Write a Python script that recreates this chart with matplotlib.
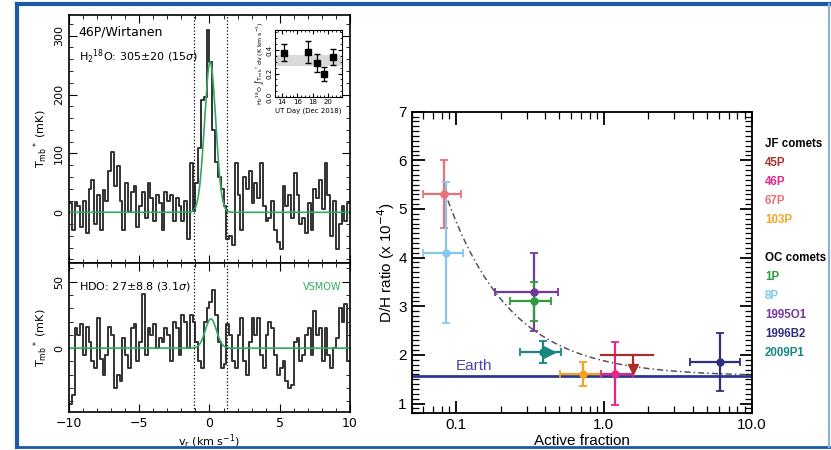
import numpy as np
import matplotlib.pyplot as plt
from matplotlib.ticker import MultipleLocator, LogLocator, NullFormatter, FixedLocator
from matplotlib.lines import Line2D

# --- left: spectra of 46P/Wirtanen (channel width 0.2 km/s) ---
vel = np.arange(-9.9, 10.0, 0.2)
h218o = [15, -30, 18, 10, -25, 20, -35, 40, 55, -20,
         30, -30, 38, 20, 70, 103, 45, 78, 20, -30,
         50, 0, 35, 45, -25, 10, 35, -10, 50, 25,
         -15, 30, 15, -30, 35, 20, 30, -15, 25, 10,
         -15, 20, -45, 84, 2, 50, 110, 190, 195, 310,
         255, 140, 85, 60, 40, 10, -45, -40, -55, 84,
         30, -30, 60, 40, 70, 15, 50, 25, 84, 10,
         -15, -10, 20, -30, -50, -63, 45, 10, 30, -10,
         67, 30, -20, -10, -35, 15, -30, 40, 25, 55,
         5, 84, 30, -40, 20, -63, -20, 10, -15, 15]
hdo = [-42, -35, 15, 10, 18, -5, 16, 5, -10, -15,
       23, -8, -20, -5, 16, 10, -30, -20, -25, 8,
       -5, -15, 15, 18, -10, 5, 41, -5, 15, 10,
       18, 0, 8, 5, 15, 10, -10, 20, 15, -5,
       25, 20, 0, 25, 20, 5, -10, -15, 20, 30,
       35, 44, 25, 5, -15, -12, 18, 10, -10, -15,
       10, 23, -10, -20, 5, 23, 10, 23, -5, -15,
       10, 20, 15, -5, -20, -15, -10, -25, -30, -28,
       5, 8, -10, -5, 10, 15, -5, 28, 10, 15,
       -10, 15, -5, -15, 0, 8, 30, 20, 33, -10]
# gaussian fits: amplitude (mK), centre, sigma (km/s)
fit_h218o = (255, 0.05, 0.40)
fit_hdo = (22, 0.10, 0.40)
vwin = [-1.1, 1.25]

# inset: integrated intensity per day
days = [14.3, 17.4, 18.5, 19.5, 20.6]
intens = [0.377, 0.385, 0.287, 0.196, 0.338]
intens_err = [0.07, 0.095, 0.075, 0.057, 0.067]
band = (0.26, 0.357)

# --- right: D/H vs active fraction ---
comets = ['67P', '8P', '1995O1', '1P', '2009P1', '103P', '46P', '1996B2']
colors = {'45P': '#a8302c', '46P': '#e0288a', '67P': '#ec7078', '103P': '#f5a31f',
          '1P': '#2f9a3e', '8P': '#86c8ec', '1995O1': '#73399a', '1996B2': '#2e2f7f',
          '2009P1': '#17877f'}
af = [0.0833, 0.0855, 0.334, 0.334, 0.387, 0.722, 1.18, 6.1]
af_lo = [0.0594, 0.0594, 0.182, 0.23, 0.269, 0.502, 0.96, 3.82]
af_hi = [0.108, 0.111, 0.488, 0.44, 0.515, 0.96, 1.57, 8.33]
dh = [5.3, 4.1, 3.3, 3.1, 2.06, 1.6, 1.6, 1.85]
dh_lo = [4.6, 2.65, 2.5, 2.7, 1.83, 1.37, 0.98, 1.25]
dh_hi = [6.0, 5.55, 4.1, 3.5, 2.28, 1.85, 2.26, 2.45]
lim45 = dict(x=1.57, xlo=0.96, xhi=2.15, y=2.0, arrow=1.72)
earth = 1.56
model_amp = 0.318  # D/H = earth + amp / f

jf = ['45P', '46P', '67P', '103P']
oc = ['1P', '8P', '1995O1', '1996B2', '2009P1']

fig = plt.figure(figsize=(8.31, 4.5), dpi=100)
ink = '#333333'

def gauss(v, p):
    return p[0] * np.exp(-0.5 * ((v - p[1]) / p[2]) ** 2)

vfine = np.linspace(-10, 10, 800)

ax1 = fig.add_axes([0.0830, 0.4156, 0.3381, 0.5511])
ax2 = fig.add_axes([0.0830, 0.0844, 0.3381, 0.3311])
for ax, spec, fit in [(ax1, h218o, fit_h218o), (ax2, hdo, fit_hdo)]:
    ax.step(vel, spec, where='mid', color=ink, lw=1.4)
    ax.plot(vfine, gauss(vfine, fit), color='#35a760', lw=1.2)
    for v0 in vwin:
        ax.axvline(v0, color='black', ls=':', lw=0.9)
    ax.set_xlim(-10, 10)
    ax.xaxis.set_major_locator(MultipleLocator(5))
    ax.xaxis.set_minor_locator(MultipleLocator(1))
    ax.tick_params(which='both', direction='in', top=True, right=True, labelsize=8)
    ax.tick_params(which='major', length=6)
    ax.tick_params(which='minor', length=3)
    for s in ax.spines.values():
        s.set_linewidth(1.2)
ax1.set_ylim(-86, 335)
ax1.yaxis.set_major_locator(MultipleLocator(100))
ax1.yaxis.set_minor_locator(MultipleLocator(20))
ax1.set_xticklabels([])
ax2.set_ylim(-48, 64)
ax2.yaxis.set_major_locator(MultipleLocator(50))
ax2.yaxis.set_minor_locator(MultipleLocator(10))
for ax in (ax1, ax2):
    plt.setp(ax.get_yticklabels(), rotation=90, va='center')
ax1.set_ylabel('T$_{\\rm mb}$$^*$ (mK)', fontsize=8, labelpad=3)
ax2.set_ylabel('T$_{\\rm mb}$$^*$ (mK)', fontsize=8, labelpad=3)
ax2.set_xlabel('v$_{\\rm r}$ (km s$^{-1}$)', fontsize=8, labelpad=2)
ax2.tick_params(axis='x', labelsize=9)
ax1.text(0.035, 0.93, '46P/Wirtanen', transform=ax1.transAxes, fontsize=9, va='center')
ax1.text(0.035, 0.83, 'H$_2$$^{18}$O: 305±20 (15$\\sigma$)', transform=ax1.transAxes,
         fontsize=8, va='center')
ax2.text(0.035, 0.84, 'HDO: 27±8.8 (3.1$\\sigma$)', transform=ax2.transAxes, fontsize=8, va='center')
ax2.text(0.97, 0.84, 'VSMOW', transform=ax2.transAxes, fontsize=7, va='center', ha='right',
         color='#35a760')

axi = fig.add_axes([0.3309, 0.7844, 0.0806, 0.1489])
axi.axhspan(band[0], band[1], color='#d9d9d9', lw=0)
axi.errorbar(days, intens, yerr=intens_err, fmt='s', color='black', ms=4, capsize=2.5, lw=0.9)
axi.set_xlim(13.1, 21.8)
axi.set_ylim(0, 0.57)
axi.xaxis.set_major_locator(MultipleLocator(2))
axi.xaxis.set_minor_locator(MultipleLocator(0.5))
axi.yaxis.set_major_locator(MultipleLocator(0.2))
axi.yaxis.set_minor_locator(MultipleLocator(0.05))
axi.tick_params(which='both', direction='in', top=True, right=True, labelsize=5, pad=1.5)
axi.tick_params(which='major', length=3)
axi.tick_params(which='minor', length=1.5)
plt.setp(axi.get_yticklabels(), rotation=90, va='center')
axi.set_xlabel('UT Day (Dec 2018)', fontsize=5, labelpad=1.5)
axi.set_ylabel('H$_2$$^{18}$O $\\int$T$_{\\rm mb}$$^*$dv (K km s$^{-1}$)', fontsize=4.5, labelpad=1)

# right panel
axr = fig.add_axes([0.4954, 0.0816, 0.4091, 0.6702])
axr.set_xscale('log')
axr.set_xlim(0.05, 10)
axr.set_ylim(0.8, 7)
axr.axhline(earth, color='#2b3a8f', lw=2)
xm = np.logspace(np.log10(0.088), 1, 200)
axr.plot(xm, earth + model_amp / xm, color='#555555', ls=(0, (4, 2, 1, 2)), lw=1.1)
for name, x, xl, xh, y, yl, yh in zip(comets, af, af_lo, af_hi, dh, dh_lo, dh_hi):
    axr.errorbar([x], [y], xerr=[[x - xl], [xh - x]], yerr=[[y - yl], [yh - y]],
                 fmt='o', color=colors[name], ms=5, capsize=3, lw=1.6, capthick=1.3)
    if name == '2009P1':
        axr.plot([x * 1.1], [y], marker='>', color=colors[name], ms=8)
c45 = colors['45P']
axr.plot([lim45['xlo'], lim45['xhi']], [lim45['y'], lim45['y']], color=c45, lw=1.6)
axr.plot([lim45['x'], lim45['x']], [lim45['y'], lim45['arrow']], color=c45, lw=1.6)
axr.plot([lim45['x']], [lim45['arrow']], marker='v', color=c45, ms=7)
axr.text(0.1, 1.78, 'Earth', color='#4646a6', fontsize=11, va='center', family='Liberation Sans')
axr.yaxis.set_major_locator(MultipleLocator(1))
axr.yaxis.set_minor_locator(MultipleLocator(0.1))
axr.xaxis.set_major_locator(FixedLocator([0.1, 1.0, 10.0]))
axr.xaxis.set_minor_locator(LogLocator(subs=np.arange(2, 10)))
axr.xaxis.set_minor_formatter(NullFormatter())
axr.set_xticklabels(['0.1', '1.0', '10.0'])
axr.tick_params(which='both', direction='in', top=True, right=True, labelsize=11)
axr.tick_params(which='major', length=9, width=1.3)
axr.tick_params(which='minor', length=5, width=0.9)
for lab in axr.get_xticklabels() + axr.get_yticklabels():
    lab.set_family('Liberation Sans')
for s in axr.spines.values():
    s.set_linewidth(1.3)
axr.set_xlabel('Active fraction', fontsize=11, family='Liberation Sans', labelpad=1)
axr.set_ylabel('D/H ratio (x 10$^{-4}$)', fontsize=11, family='Liberation Sans', labelpad=1)

lx = 765 / 831
lfs = 8.3
fig.text(lx, 1 - 144 / 450, 'JF comets', fontsize=lfs, weight='bold', va='center',
         family='Liberation Sans')
for i, n in enumerate(jf):
    fig.text(lx, 1 - (163.3 + 19 * i) / 450, n, fontsize=lfs, weight='bold', va='center',
             color=colors[n], family='Liberation Sans')
fig.text(lx, 1 - 257.7 / 450, 'OC comets', fontsize=lfs, weight='bold', va='center',
         family='Liberation Sans')
for i, n in enumerate(oc):
    fig.text(lx, 1 - (277 + 19 * i) / 450, n, fontsize=lfs, weight='bold', va='center',
             color=colors[n], family='Liberation Sans')

# blue frame
W, H = 831, 450
dark = '#1d5aa6'
fig.add_artist(Line2D([17 / W, 1], [1 - 4 / H, 1 - 4 / H], color=dark, lw=3))
fig.add_artist(Line2D([17 / W, 17 / W], [1 - 4 / H, 1 - 447 / H], color=dark, lw=3))
fig.add_artist(Line2D([17 / W, 1], [1 - 447 / H, 1 - 447 / H], color=dark, lw=2))
fig.add_artist(Line2D([829 / W, 829 / W], [1 - 4 / H, 1 - 447 / H], color='#8ab0dc', lw=1.5))

fig.savefig('out.png', dpi=100)
